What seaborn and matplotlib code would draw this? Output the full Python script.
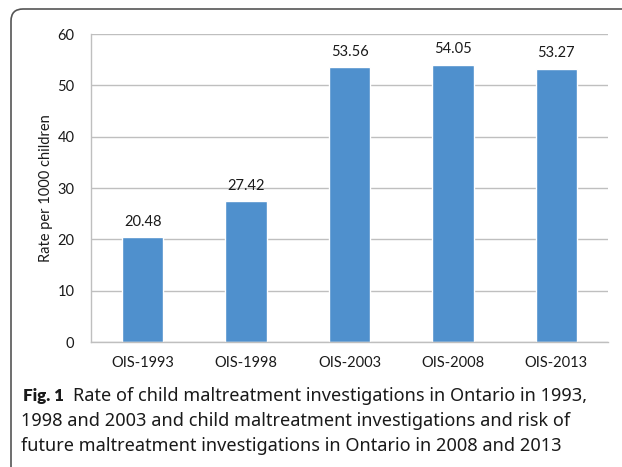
import matplotlib
matplotlib.use("Agg")
import matplotlib.pyplot as plt
import matplotlib.transforms as mtransforms
from matplotlib.patches import FancyBboxPatch
import seaborn as sns
import pandas as pd

categories = ["OIS-1993", "OIS-1998", "OIS-2003", "OIS-2008", "OIS-2013"]
values = [20.48, 27.42, 53.56, 54.05, 53.27]
yticks = [0, 10, 20, 30, 40, 50, 60]
ylabel = "Rate per 1000 children"
caption_bold = "Fig. 1"
caption_lines = [
    "Rate of child maltreatment investigations in Ontario in 1993,",
    "1998 and 2003 and child maltreatment investigations and risk of",
    "future maltreatment investigations in Ontario in 2008 and 2013",
]

sns.set_theme(style="white")
plt.rcParams["font.family"] = ["Lato", "DejaVu Sans"]

W, H = 622, 467
fig = plt.figure(figsize=(W / 100, H / 100), dpi=100)
ax = fig.add_axes([91 / W, 1 - 342 / H, (608 - 91) / W, (342 - 34) / H])

df = pd.DataFrame({"cat": categories, "val": values})
sns.barplot(data=df, x="cat", y="val", color="#4F90CD", saturation=1,
            width=0.4, ax=ax, order=categories)

for c in ax.containers:
    ax.bar_label(c, labels=[f"{v:.2f}" for v in values], padding=6,
                 fontsize=10.5, color="#1a1a1a")

ax.set_ylim(0, 60)
ax.set_yticks(yticks)
ax.set_xlabel("")
ax.set_ylabel(ylabel, fontsize=10.5, color="#1a1a1a", labelpad=3)
ax.grid(axis="y", color="#BFBFBF", linewidth=1)
ax.set_axisbelow(True)
for s in ["top", "right"]:
    ax.spines[s].set_visible(False)
for s in ["left", "bottom"]:
    ax.spines[s].set_color("#BFBFBF")
    ax.spines[s].set_linewidth(1)
ax.tick_params(axis="y", length=0, pad=12, labelsize=10.5, labelcolor="#1a1a1a")
ax.tick_params(axis="x", length=0, pad=10, labelsize=10.5, labelcolor="#1a1a1a")

# rounded border
border = FancyBboxPatch((11, -30), 660, H - 9 + 30, boxstyle="round,pad=0,rounding_size=12",
                        transform=mtransforms.IdentityTransform(), fill=False,
                        edgecolor="#555555", linewidth=1.2)
fig.add_artist(border)

cap_family = ["Noto Sans", "DejaVu Sans"]
cap_kw = dict(color="#1a1a1a", va="baseline", ha="left")
cap_fs = 14
t0 = fig.text(23 / W, 1 - 401 / H, caption_bold, fontsize=cap_fs, fontweight="heavy",
              family=["Lato", "DejaVu Sans"], **cap_kw)
lines = []
lines.append(fig.text(73 / W, 1 - 401 / H, caption_lines[0], fontsize=cap_fs,
                      fontstretch="condensed", family=cap_family, **cap_kw))
lines.append(fig.text(21 / W, 1 - 426 / H, caption_lines[1], fontsize=cap_fs,
                      fontstretch="condensed", family=cap_family, **cap_kw))
lines.append(fig.text(21 / W, 1 - 451 / H, caption_lines[2], fontsize=cap_fs,
                      fontstretch="condensed", family=cap_family, **cap_kw))

# fit caption size to the reference line widths
fig.canvas.draw()
r = fig.canvas.get_renderer()
targets = [520, 551, 534]
ratios = [tw / t.get_window_extent(r).width for tw, t in zip(targets, lines)]
fs = cap_fs * sum(ratios) / len(ratios)
for t in lines:
    t.set_fontsize(fs)
# bold label width: reference "Fig. 1" spans ~23..64 px
w0 = t0.get_window_extent(r).width
t0.set_fontsize(cap_fs * 41 / w0)

fig.savefig("out.png", dpi=100)
